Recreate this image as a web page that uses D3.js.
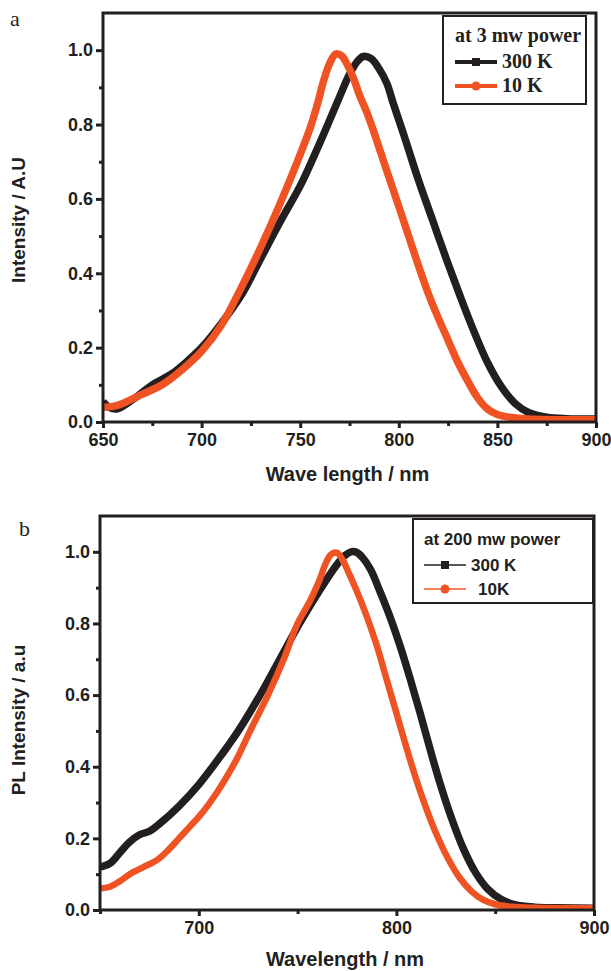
<!DOCTYPE html>
<html>
<head>
<meta charset="utf-8">
<script src="https://cdn.jsdelivr.net/npm/d3@7"></script>
<style>
  body { margin: 0; background: #fff; }
  svg { display: block; }
</style>
</head>
<body>
<svg id="chart" width="611" height="971"></svg>
<script>
// panel a: 3 mW power
const waveA300 = [650, 653, 657, 665, 675, 685, 692, 700, 710, 720, 730, 740, 750, 757, 764, 770, 775, 779, 782, 786, 790, 794, 797, 803, 810, 817, 824, 831, 838, 845, 852, 859, 866, 875, 885, 900];
const intA300  = [0.055, 0.04, 0.035, 0.06, 0.1, 0.13, 0.16, 0.2, 0.265, 0.34, 0.44, 0.54, 0.635, 0.715, 0.8, 0.875, 0.935, 0.97, 0.983, 0.977, 0.95, 0.91, 0.86, 0.765, 0.65, 0.545, 0.44, 0.34, 0.245, 0.16, 0.095, 0.05, 0.025, 0.013, 0.009, 0.008];
const waveA10  = [650, 655, 660, 670, 680, 690, 700, 710, 720, 730, 740, 750, 755, 759, 762, 765, 768, 771, 774, 777, 780, 784, 788, 793, 800, 805, 810, 815, 820, 825, 830, 835, 840, 845, 850, 857, 865, 900];
const intA10   = [0.04, 0.042, 0.05, 0.075, 0.1, 0.14, 0.19, 0.26, 0.36, 0.47, 0.59, 0.72, 0.79, 0.86, 0.92, 0.965, 0.99, 0.985, 0.96, 0.925, 0.88, 0.83, 0.77, 0.69, 0.58, 0.5, 0.42, 0.345, 0.28, 0.22, 0.16, 0.11, 0.065, 0.035, 0.02, 0.012, 0.008, 0.006];

// panel b: 200 mW power
const waveB300 = [650, 655, 660, 665, 670, 675, 680, 690, 700, 707, 715, 720, 731, 741, 751, 762, 770, 774, 777, 780, 783, 787, 792, 797, 802, 807, 812, 817, 822, 828, 834, 840, 846, 853, 860, 870, 882, 900];
const intB300  = [0.12, 0.13, 0.16, 0.19, 0.21, 0.22, 0.24, 0.29, 0.35, 0.4, 0.46, 0.5, 0.6, 0.7, 0.8, 0.9, 0.965, 0.99, 1.0, 0.998, 0.983, 0.95, 0.885, 0.815, 0.735, 0.645, 0.55, 0.45, 0.355, 0.255, 0.17, 0.105, 0.06, 0.03, 0.015, 0.008, 0.006, 0.005];
const waveB10  = [650, 655, 660, 665, 672, 679, 685, 690, 695, 700, 705, 710, 715, 720, 726, 735, 743, 750, 756, 761, 764, 767, 770, 773, 776, 780, 785, 790, 795, 800, 805, 810, 815, 820, 826, 832, 838, 844, 850, 858, 870, 900];
const intB10   = [0.06, 0.065, 0.08, 0.1, 0.12, 0.14, 0.17, 0.2, 0.23, 0.26, 0.295, 0.335, 0.38, 0.43, 0.5, 0.6, 0.7, 0.8, 0.86, 0.92, 0.965, 0.993, 0.997, 0.975, 0.94, 0.89, 0.82, 0.74, 0.645, 0.55, 0.455, 0.365, 0.285, 0.215, 0.145, 0.09, 0.052, 0.028, 0.016, 0.009, 0.006, 0.005];

const yTicks = [0, 0.2, 0.4, 0.6, 0.8, 1.0];
const yMinor = [0.1, 0.3, 0.5, 0.7, 0.9];
const xTicksA = [650, 700, 750, 800, 850, 900];
const xMinorA = [675, 725, 775, 825, 875];
const xTicksB = [700, 800, 900];
const xMinorB = [650, 750, 850];

const BLACK = "#231f20";
const ORANGE = "#f05323";
const sans = "'Liberation Sans', Arial, sans-serif";
const serif = "'Liberation Serif', 'Times New Roman', serif";

const svg = d3.select("#chart");

function drawPanel(p) {
    const x = d3.scaleLinear().domain([650, 900]).range([p.left, p.right]);
    const y = d3.scaleLinear().domain([0, 1.1]).range([p.bottom, p.top]);
    const g = svg.append("g");

    g.append("clipPath").attr("id", p.id + "clip")
        .append("rect")
        .attr("x", p.left).attr("y", p.top)
        .attr("width", p.right - p.left).attr("height", p.bottom - p.top);

    const line = d3.line()
        .x(d => x(d[0]))
        .y(d => y(d[1]))
        .curve(d3.curveCatmullRom.alpha(0.5));

    const curves = g.append("g").attr("clip-path", `url(#${p.id}clip)`);
    p.series.forEach(s => {
        curves.append("path")
            .datum(d3.zip(s.wave, s.vals))
            .attr("fill", "none")
            .attr("stroke", s.color)
            .attr("stroke-width", s.width)
            .attr("stroke-linejoin", "round")
            .attr("d", line);
    });

    // frame
    g.append("rect")
        .attr("x", p.left).attr("y", p.top)
        .attr("width", p.right - p.left).attr("height", p.bottom - p.top)
        .attr("fill", "none").attr("stroke", BLACK).attr("stroke-width", 3);

    const style = sel => {
        sel.select(".domain").remove();
        sel.selectAll("line").attr("stroke", BLACK).attr("stroke-width", 3);
        sel.selectAll("text").attr("fill", BLACK)
            .attr("font-family", sans).attr("font-weight", "bold").attr("font-size", 18);
    };

    g.append("g").attr("transform", `translate(${p.left},0)`)
        .call(d3.axisLeft(y).tickValues(yTicks).tickFormat(d3.format(".1f")).tickSize(7).tickPadding(3))
        .call(style);
    g.append("g").attr("transform", `translate(${p.left},0)`)
        .call(d3.axisLeft(y).tickValues(yMinor).tickFormat("").tickSize(4))
        .call(style);
    g.append("g").attr("transform", `translate(0,${p.bottom})`)
        .call(d3.axisBottom(x).tickValues(p.xTicks).tickFormat(d3.format("d")).tickSize(6).tickPadding(5))
        .call(style);
    g.append("g").attr("transform", `translate(0,${p.bottom})`)
        .call(d3.axisBottom(x).tickValues(p.xMinor).tickFormat("").tickSize(4))
        .call(style);

    // axis titles
    g.append("text")
        .attr("x", (p.left + p.right) / 2 - 2).attr("y", p.xTitleY)
        .attr("text-anchor", "middle")
        .attr("font-family", sans).attr("font-weight", "bold").attr("font-size", 20)
        .attr("fill", BLACK)
        .text(p.xTitle);
    g.append("text")
        .attr("transform", `translate(25,${p.yTitleY}) rotate(-90)`)
        .attr("text-anchor", "middle")
        .attr("font-family", sans).attr("font-weight", "bold").attr("font-size", 19)
        .attr("fill", BLACK)
        .text(p.yTitle);

    // panel letter
    g.append("text")
        .attr("x", p.letterX).attr("y", p.letterY)
        .attr("font-family", serif).attr("font-size", 22).attr("fill", BLACK)
        .text(p.letter);

    // legend
    const L = p.legend;
    g.append("rect")
        .attr("x", L.x).attr("y", L.y).attr("width", L.w).attr("height", L.h)
        .attr("fill", "#fff").attr("stroke", BLACK).attr("stroke-width", 2);
    g.append("text")
        .attr("x", L.x + L.tx).attr("y", L.y + 26)
        .attr("font-family", L.font).attr("font-weight", "bold").attr("font-size", L.fs)
        .attr("fill", BLACK)
        .text(L.title);
    p.series.forEach((s, i) => {
        const cy = L.y + 46 + i * 24;
        const x0 = L.x + L.tx, x1 = x0 + 42, mx = (x0 + x1) / 2;
        g.append("line")
            .attr("x1", x0).attr("x2", x1).attr("y1", cy).attr("y2", cy)
            .attr("stroke", s.color).attr("stroke-width", L.lw);
        if (s.marker === "square") {
            g.append("rect").attr("x", mx - 4).attr("y", cy - 4).attr("width", 8).attr("height", 8)
                .attr("fill", s.color);
        } else {
            g.append("circle").attr("cx", mx).attr("cy", cy).attr("r", 4.5).attr("fill", s.color);
        }
        g.append("text")
            .attr("x", x1 + 5 + (s.labelShift || 0)).attr("y", cy + 6)
            .attr("font-family", L.font).attr("font-weight", "bold").attr("font-size", L.fs)
            .attr("fill", BLACK)
            .text(s.label);
    });
}

drawPanel({
    id: "a", left: 103, right: 596, top: 13, bottom: 422,
    xTicks: xTicksA, xMinor: xMinorA,
    xTitle: "Wave length / nm", xTitleY: 481,
    yTitle: "Intensity / A.U", yTitleY: 220,
    letter: "a", letterX: 10, letterY: 26,
    series: [
        { wave: waveA300, vals: intA300, color: BLACK, width: 7.5, marker: "square", label: "300 K" },
        { wave: waveA10, vals: intA10, color: ORANGE, width: 7.5, marker: "circle", label: "10 K" }
    ],
    legend: { x: 443, y: 16, w: 143, h: 88, tx: 12, title: "at 3 mw power", font: serif, fs: 20, lw: 4 }
});

drawPanel({
    id: "b", left: 100, right: 594, top: 516, bottom: 910,
    xTicks: xTicksB, xMinor: xMinorB,
    xTitle: "Wavelength / nm", xTitleY: 966,
    yTitle: "PL Intensity / a.u", yTitleY: 720,
    letter: "b", letterX: 19, letterY: 536,
    series: [
        { wave: waveB300, vals: intB300, color: BLACK, width: 7.5, marker: "square", label: "300 K" },
        { wave: waveB10, vals: intB10, color: ORANGE, width: 6.5, marker: "circle", label: "10K", labelShift: 7 }
    ],
    legend: { x: 413, y: 519, w: 180, h: 84, tx: 11, title: "at 200 mw power", font: sans, fs: 17, lw: 1.5 }
});
</script>
</body>
</html>
